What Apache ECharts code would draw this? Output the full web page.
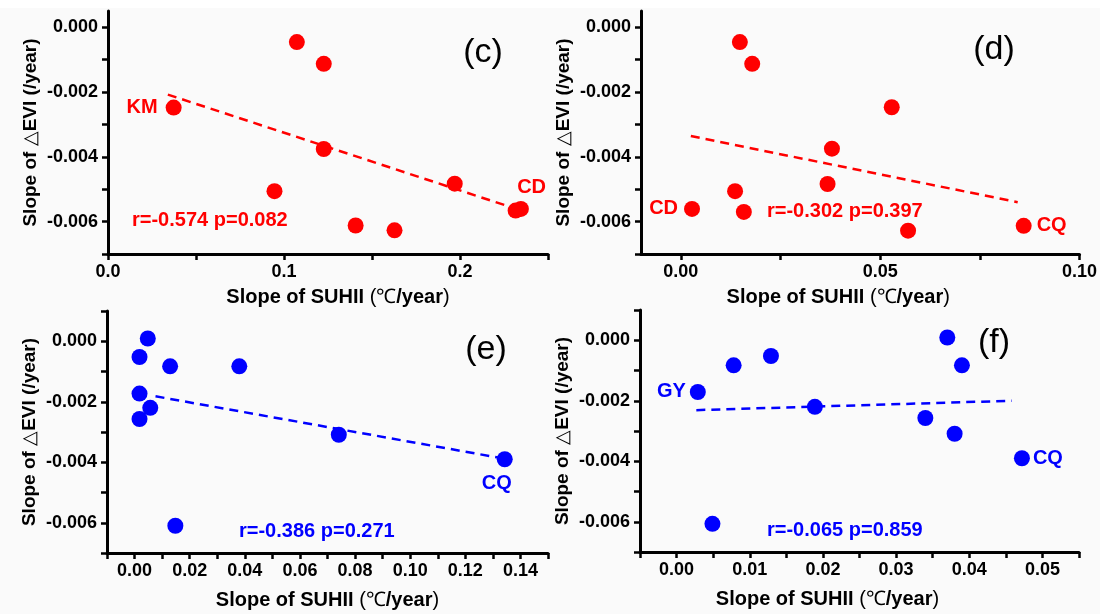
<!DOCTYPE html>
<html><head><meta charset="utf-8">
<script src="https://cdn.jsdelivr.net/npm/echarts@6/dist/echarts.min.js"></script>
<style>html,body{margin:0;padding:0;background:#fafafa}#chart{width:1100px;height:614px}</style>
</head><body><div id="chart"></div><script>
// ---------- data ----------
// panel (c)
const cX = [0.1073, 0.1226, 0.0373, 0.1226, 0.0946, 0.1970, 0.2316, 0.2346, 0.1407, 0.1628];
const cY = [-0.00046, -0.00113, -0.00248, -0.00376, -0.00506, -0.00483, -0.00566, -0.00561, -0.00612, -0.00627];
const cNames = ['', '', 'KM', '', '', '', 'CD', '', '', ''];
const cFitX = [0.034, 0.231];
const cFitY = [-0.00208, -0.00559];
const cStat = 'r=-0.574 p=0.082';
// panel (d)
const dX = [0.0148, 0.0179, 0.0529, 0.0379, 0.0368, 0.0136, 0.0158, 0.0028, 0.0570, 0.0860];
const dY = [-0.00046, -0.00113, -0.00247, -0.00375, -0.00484, -0.00506, -0.00570, -0.00561, -0.00628, -0.00613];
const dNames = ['', '', '', '', '', '', '', 'CD', '', 'CQ'];
const dFitX = [0.0025, 0.0845];
const dFitY = [-0.00336, -0.0054];
const dStat = 'r=-0.302 p=0.397';
// panel (e)
const eX = [0.0048, 0.0018, 0.0129, 0.0380, 0.0018, 0.0057, 0.0018, 0.0741, 0.1343, 0.0148];
const eY = [0.00009, -0.00052, -0.00083, -0.00083, -0.00173, -0.0022, -0.00257, -0.00309, -0.0039, -0.0061];
const eNames = ['', '', '', '', '', '', '', '', 'CQ', ''];
const eFitX = [0.0076, 0.1335];
const eFitY = [-0.00182, -0.00387];
const eStat = 'r=-0.386 p=0.271';
// panel (f)
const fX = [0.0029, 0.0078, 0.0129, 0.0049, 0.0189, 0.0370, 0.0390, 0.0340, 0.0380, 0.0472];
const fY = [-0.00171, -0.00083, -0.00052, -0.00607, -0.0022, 0.00009, -0.00083, -0.00257, -0.00309, -0.0039];
const fNames = ['GY', '', '', '', '', '', '', '', '', 'CQ'];
const fFitX = [0.0027, 0.0458];
const fFitY = [-0.00231, -0.0020];
const fStat = 'r=-0.065 p=0.859';
// axis ticks / labels
const yTicksTop = [-0.007, -0.006, -0.005, -0.004, -0.003, -0.002, -0.001, 0.000];
const yTicksBot = [-0.007, -0.006, -0.005, -0.004, -0.003, -0.002, -0.001, 0.000, 0.001];
const yLabels = [-0.006, -0.004, -0.002, 0.000];
const cXTicks = [0, 0.05, 0.1, 0.15, 0.2, 0.25];
const cXLabels = [0, 0.1, 0.2];
const dXTicks = [0, 0.025, 0.05, 0.075, 0.1];
const dXLabels = [0, 0.05, 0.1];
const eXTicks = [-0.01, 0, 0.01, 0.02, 0.03, 0.04, 0.05, 0.06, 0.07, 0.08, 0.09, 0.1, 0.11, 0.12, 0.13, 0.14, 0.15];
const eXLabels = [0, 0.02, 0.04, 0.06, 0.08, 0.1, 0.12, 0.14];
const fXTicks = [-0.005, 0, 0.005, 0.01, 0.015, 0.02, 0.025, 0.03, 0.035, 0.04, 0.045, 0.05, 0.055];
const fXLabels = [0, 0.01, 0.02, 0.03, 0.04, 0.05];
const panelTags = ['(c)', '(d)', '(e)', '(f)'];

// ---------- styling / layout ----------
const RED = '#ff0000', BLUE = '#0000ff';
const FONT = '"Liberation Sans", Arial, sans-serif';
const panels = [
  {x: cX, y: cY, names: cNames, fx: cFitX, fy: cFitY, color: RED, xmin: 0, xmax: 0.25, ymax: 0.0005,
   xt: cXTicks, xl: cXLabels, yt: yTicksTop, dec: 1, grid: {left: 108, top: 11, width: 440, height: 243}, xGap: 33, xPad: [0, 0, 0, 20],
   labelPos: {KM: {position: 'left', distance: 8}, CD: {position: 'top', distance: 5, offset: [16, 0]}}},
  {x: dX, y: dY, names: dNames, fx: dFitX, fy: dFitY, color: RED, xmin: -0.01, xmax: 0.1, ymax: 0.0005,
   xt: dXTicks, xl: dXLabels, yt: yTicksTop, dec: 2, grid: {left: 641, top: 11, width: 439, height: 243}, xGap: 33, xPad: [0, 44, 0, 0],
   labelPos: {CD: {position: 'left', distance: 6}, CQ: {position: 'right', distance: 5}}},
  {x: eX, y: eY, names: eNames, fx: eFitX, fy: eFitY, color: BLUE, xmin: -0.01, xmax: 0.15, ymax: 0.001,
   xt: eXTicks, xl: eXLabels, yt: yTicksBot, dec: 2, grid: {left: 107, top: 311, width: 441, height: 242}, xGap: 37, xPad: [0, 0, 0, 0],
   labelPos: {CQ: {position: 'bottom', distance: 6, offset: [-8, 0]}}},
  {x: fX, y: fY, names: fNames, fx: fFitX, fy: fFitY, color: BLUE, xmin: -0.005, xmax: 0.055, ymax: 0.001,
   xt: fXTicks, xl: fXLabels, yt: yTicksBot, dec: 2, grid: {left: 640, top: 310, width: 439, height: 242}, xGap: 37, xPad: [0, 64, 0, 0],
   labelPos: {GY: {position: 'left', distance: 4}, CQ: {position: 'right', distance: 3}}}
];
const tagPos = [[483, 53], [994, 50], [486, 350], [994, 343]];
const statPos = [[132, 220], [767, 211], [239, 531], [767, 530]];
const stats = [cStat, dStat, eStat, fStat];

const axisLine = {show: true, onZero: false, lineStyle: {color: '#000', width: 3}};
const axisTick = (vals) => ({show: true, inside: false, length: 6, lineStyle: {color: '#000', width: 2.5}, customValues: vals});
const nameRich = {n: {fontWeight: 'normal', fontSize: 20, color: '#000', fontFamily: FONT}};
const yNameRich = {n: {fontWeight: 'normal', fontSize: 19, color: '#000', fontFamily: FONT}};

const grid = [], xAxis = [], yAxis = [], series = [], graphic = [];
panels.forEach((p, i) => {
  grid.push(p.grid);
  xAxis.push({
    type: 'value', gridIndex: i, min: p.xmin, max: p.xmax,
    axisLine, axisTick: axisTick(p.xt), splitLine: {show: false},
    axisLabel: {customValues: p.xl, formatter: v => v.toFixed(p.dec), color: '#000', fontWeight: 'bold', fontSize: 18, fontFamily: FONT, margin: 9},
    name: 'Slope of SUHII {n|(℃}/year{n|)}', nameLocation: 'middle', nameGap: p.xGap,
    nameTextStyle: {color: '#000', fontWeight: 'bold', fontSize: 20, fontFamily: FONT, rich: nameRich, padding: p.xPad}
  });
  yAxis.push({
    type: 'value', gridIndex: i, min: -0.007, max: p.ymax,
    axisLine, axisTick: axisTick(p.yt), splitLine: {show: false},
    axisLabel: {customValues: yLabels, formatter: v => v.toFixed(3), color: '#000', fontWeight: 'bold', fontSize: 18, fontFamily: FONT, margin: 10},
    name: 'Slope of {n|△}EVI (/year)', nameLocation: 'middle', nameGap: 68, nameRotate: 90,
    nameTextStyle: {color: '#000', fontWeight: 'bold', fontSize: 19, fontFamily: FONT, rich: yNameRich}
  });
  series.push({
    type: 'line', xAxisIndex: i, yAxisIndex: i, symbol: 'none', z: 2,
    data: p.fx.map((x, k) => [x, p.fy[k]]),
    lineStyle: {color: p.color, width: 2.5, type: [9, 6]}
  });
  series.push({
    type: 'scatter', xAxisIndex: i, yAxisIndex: i, symbol: 'circle', symbolSize: 16, z: 3,
    itemStyle: {color: p.color, opacity: 1},
    data: p.x.map((x, k) => {
      const item = {value: [x, p.y[k]]};
      const nm = p.names[k];
      if (nm) {
        item.label = Object.assign({show: true, formatter: nm, color: p.color, fontWeight: 'bold', fontSize: 20, fontFamily: FONT}, p.labelPos[nm]);
      }
      return item;
    })
  });
  graphic.push({type: 'text', x: tagPos[i][0], y: tagPos[i][1], z: 10,
    style: {text: panelTags[i], fill: '#000', font: 'normal 34px ' + FONT, textAlign: 'center', textVerticalAlign: 'middle'}});
  graphic.push({type: 'text', x: statPos[i][0], y: statPos[i][1], z: 10,
    style: {text: stats[i], fill: p.color, font: 'bold 20px ' + FONT, textAlign: 'left', textVerticalAlign: 'middle'}});
});
graphic.unshift({type: 'rect', shape: {x: 0, y: 0, width: 1100, height: 8}, style: {fill: '#ffffff'}, z: -1});

const chart = echarts.init(document.getElementById('chart'), null, {renderer: 'canvas'});
chart.setOption({backgroundColor: '#fafafa', animation: false, grid, xAxis, yAxis, series, graphic});
</script></body></html>
